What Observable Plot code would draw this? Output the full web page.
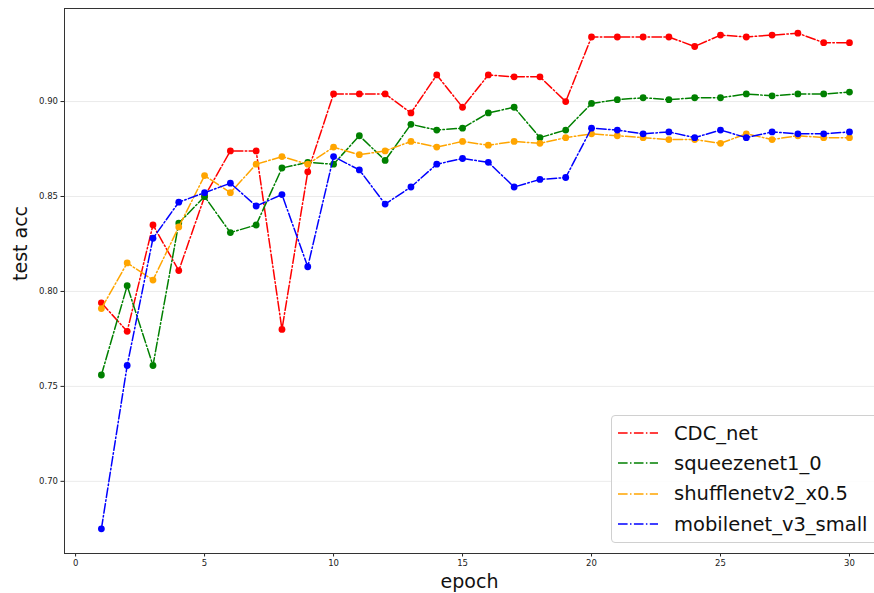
<!DOCTYPE html>
<html><head><meta charset="utf-8">
<script src="https://cdn.jsdelivr.net/npm/d3@7"></script>
<script src="https://cdn.jsdelivr.net/npm/@observablehq/plot@0.6"></script>
<style>
body{margin:0;background:#fff;}
#wrap{position:relative;width:874px;height:593px;overflow:hidden;font-family:"DejaVu Sans",sans-serif;}
#legend{position:absolute;left:611px;top:415px;width:300px;height:126px;border:1px solid #d0d0d0;border-radius:4px;background:rgba(255,255,255,0.85);}
.item{position:absolute;left:6px;height:30px;display:flex;align-items:center;font-size:19.5px;color:#111;white-space:nowrap;}
.item svg{margin-right:16px;}
</style></head><body><div id="wrap"></div>
<script>
const epochs = [1,2,3,4,5,6,7,8,9,10,11,12,13,14,15,16,17,18,19,20,21,22,23,24,25,26,27,28,29,30];
const seriesNames = ["CDC_net","squeezenet1_0","shufflenetv2_x0.5","mobilenet_v3_small"];
const seriesColors = ["#ff0000","#008000","#ffa500","#0000ff"];
const cdcNet = [0.794,0.779,0.835,0.811,0.850,0.874,0.874,0.780,0.863,0.904,0.904,0.904,0.894,0.914,0.897,0.914,0.913,0.913,0.900,0.934,0.934,0.934,0.934,0.929,0.935,0.934,0.935,0.936,0.931,0.931];
const squeezenet = [0.756,0.803,0.761,0.836,0.850,0.831,0.835,0.865,0.868,0.867,0.882,0.869,0.888,0.885,0.886,0.894,0.897,0.881,0.885,0.899,0.901,0.902,0.901,0.902,0.902,0.904,0.903,0.904,0.904,0.905];
const shufflenet = [0.791,0.815,0.806,0.834,0.861,0.852,0.867,0.871,0.867,0.876,0.872,0.874,0.879,0.876,0.879,0.877,0.879,0.878,0.881,0.883,0.882,0.881,0.880,0.880,0.878,0.883,0.880,0.882,0.881,0.881];
const mobilenet = [0.675,0.761,0.828,0.847,0.852,0.857,0.845,0.851,0.813,0.871,0.864,0.846,0.855,0.867,0.870,0.868,0.855,0.859,0.860,0.886,0.885,0.883,0.884,0.881,0.885,0.881,0.884,0.883,0.883,0.884];
const xTicks = [0,5,10,15,20,25,30];
const yTicks = [0.70,0.75,0.80,0.85,0.90];
const xLabel = "epoch";
const yLabel = "test acc";

const allValues = [cdcNet, squeezenet, shufflenet, mobilenet];
const xDomain = [-0.43, 30.97];
const yDomain = [0.662, 0.949];
const dash = "9.6,2.4,1.5,2.4";

const seriesMarks = allValues.flatMap((vals, i) => {
  const rows = epochs.map((e, j) => ({epoch: e, acc: vals[j]}));
  return [
    Plot.line(rows, {x: "epoch", y: "acc", stroke: seriesColors[i], strokeWidth: 1.5, strokeDasharray: dash}),
    Plot.dot(rows, {x: "epoch", y: "acc", fill: seriesColors[i], r: 3.4})
  ];
});

const chart = Plot.plot({
  width: 874, height: 593,
  marginLeft: 64, marginRight: 0, marginTop: 8, marginBottom: 40,
  style: {fontFamily: "DejaVu Sans, sans-serif", fontSize: "8.5px", color: "#222", background: "#fff"},
  x: {domain: xDomain, ticks: xTicks, tickFormat: d => String(d), tickSize: 3.5, tickPadding: 3, label: null},
  y: {domain: yDomain, ticks: yTicks, tickFormat: d => d.toFixed(2), tickSize: 3.5, tickPadding: 3, label: null},
  marks: [
    Plot.ruleY(yTicks, {stroke: "#ebebeb", strokeWidth: 1}),
    ...seriesMarks,
    Plot.ruleX([xDomain[0]], {stroke: "#333", strokeWidth: 1}),
    Plot.ruleY([yDomain[0]], {stroke: "#333", strokeWidth: 1}),
    Plot.ruleY([yDomain[1]], {stroke: "#333", strokeWidth: 1}),
    Plot.text([xLabel], {frameAnchor: "bottom", lineAnchor: "top", dy: 21, text: d => d, fontSize: 19, fill: "#111"}),
    Plot.text([yLabel], {frameAnchor: "left", dx: -44, rotate: -90, text: d => d, fontSize: 19, fill: "#111"})
  ]
});
const wrap = document.getElementById("wrap");
wrap.appendChild(chart);

const legend = document.createElement("div");
legend.id = "legend";
seriesNames.forEach((name, i) => {
  const item = document.createElement("div");
  item.className = "item";
  item.style.top = (2 + i * 30.4) + "px";
  item.innerHTML = `<svg width="40" height="4"><line x1="0" y1="2" x2="40" y2="2" stroke="${seriesColors[i]}" stroke-width="1.5" stroke-dasharray="${dash}"/></svg>`;
  const span = document.createElement("span");
  span.textContent = name;
  item.appendChild(span);
  legend.appendChild(item);
});
wrap.appendChild(legend);
</script>
</body></html>
